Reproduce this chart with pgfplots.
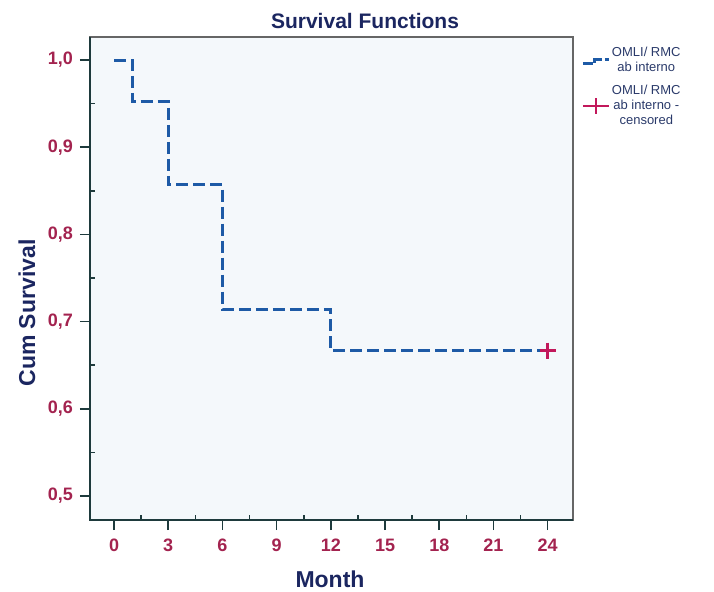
\documentclass[border=0pt]{standalone}
\usepackage{fontspec}
\setmainfont{Liberation Sans}
\usepackage{pgfplots}
\pgfplotsset{compat=1.18}
\definecolor{kmblue}{HTML}{1D5AA6}
\definecolor{lblred}{HTML}{A3234F}
\definecolor{navy}{HTML}{1B2660}
\definecolor{cens}{HTML}{C2185B}
\definecolor{bg}{HTML}{F4F8FB}
\definecolor{axdark}{HTML}{1E3A3C}
\definecolor{legtext}{HTML}{2A3A6A}
\begin{document}
\begin{tikzpicture}[x=0.5pt,y=0.5pt]
\useasboundingbox (0,0) rectangle (714,591);
\begin{axis}[at={(45pt,35.5pt)}, anchor=south west, scale only axis,
  width=241.5pt, height=241.5pt,
  xmin=-1.33, xmax=25.4, ymin=0.4724, ymax=1.0264,
  clip=false,
  /pgf/number format/assume math mode=true,
  axis background/.style={fill=bg},
  axis line style={draw=gray!80!black, line width=0.6pt},
  xtick={0,3,6,9,12,15,18,21,24},
  ytick={0.5,0.6,0.7,0.8,0.9,1.0},
  yticklabels={{0,5},{0,6},{0,7},{0,8},{0,9},{1,0}},
  tick align=outside, xtick pos=bottom, ytick pos=left,
  major tick length=5pt,
  tick style={axdark, line width=0.8pt},
  extra x ticks={1.5,4.5,7.5,10.5,13.5,16.5,19.5,22.5},
  extra x tick labels={},
  extra x tick style={tick align=inside, major tick length=2.5pt, xtick pos=bottom},
  extra y ticks={0.55,0.65,0.75,0.85,0.95},
  extra y tick labels={},
  extra y tick style={tick align=inside, major tick length=2.5pt, ytick pos=left},
  ticklabel style={font=\bfseries\fontsize{9}{10}\selectfont, text=lblred},
  xticklabel style={yshift=-1pt},
  legend style={at={(1,1)}, anchor=north west, xshift=1pt, yshift=-2pt,
    draw=none, fill=none, font=\fontsize{6.5}{7.5}\selectfont, text=legtext,
    nodes={align=center, inner sep=0.8pt}, row sep=3.5pt},
  legend cell align=center,
]
\addplot[kmblue, line width=1.5pt, dash pattern=on 6pt off 2.5pt, const plot,
  legend image code/.code={\draw[kmblue, line width=1.5pt, dash pattern=on 5pt off 1.5pt] (0pt,-1.5pt) -- (6pt,-1.5pt) -- (6pt,0.5pt) -- (13pt,0.5pt);}]
  coordinates {(0,1) (1,0.9524) (3,0.8571) (6,0.7143) (12,0.6667) (24,0.6667)};
\addlegendentry{OMLI/ RMC\\ab interno}
\addplot[cens, only marks, mark=+, mark size=4pt, line width=1.2pt,
  legend image code/.code={\draw[cens, line width=0.8pt] (0pt,0pt) -- (13pt,0pt) (6.5pt,-4pt) -- (6.5pt,4pt);}]
  coordinates {(24,0.6667)};
\addlegendentry{OMLI/ RMC\\ab interno -\\censored}
\draw[axdark, line width=1.3pt] (rel axis cs:0,1) -- (rel axis cs:0,0) -- (rel axis cs:1,0);
\end{axis}
\node[font=\bfseries\fontsize{10.5}{12}\selectfont, text=navy] at (365,570) {Survival Functions};
\node[font=\bfseries\fontsize{11.5}{13}\selectfont, text=navy, rotate=90] at (27,278) {Cum Survival};
\node[font=\bfseries\fontsize{11.5}{13}\selectfont, text=navy] at (330,12) {Month};
\end{tikzpicture}
\end{document}
